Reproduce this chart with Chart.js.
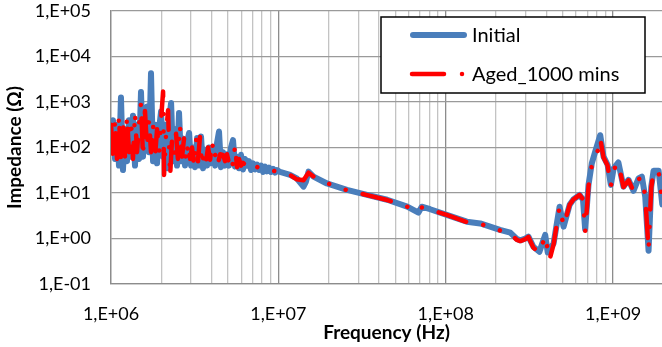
<!DOCTYPE html>
<html><head><meta charset="utf-8">
<script src="https://cdn.jsdelivr.net/npm/chart.js@4/dist/chart.umd.min.js"></script>
<style>html,body{margin:0;padding:0;background:#fff;}#wrap{width:662px;height:347px;position:relative;}</style>
</head><body><div id="wrap"><canvas id="c" width="662" height="347"></canvas></div>
<script>
const seriesNames = ['Initial', 'Aged_1000 mins'];

const initialFreq = [
1.000e6,1.028e6,1.057e6,1.086e6,1.116e6,1.147e6,1.179e6,1.212e6,1.246e6,1.281e6,
1.317e6,1.353e6,1.391e6,1.430e6,1.470e6,1.511e6,1.553e6,1.596e6,1.641e6,1.687e6,
1.734e6,1.783e6,1.833e6,1.884e6,1.937e6,1.991e6,2.047e6,2.104e6,2.163e6,2.223e6,
2.286e6,2.350e6,2.415e6,2.48e6,2.55e6,2.62e6,2.69e6,2.77e6,2.84e6,2.93e6,
3.01e6,3.09e6,3.18e6,3.27e6,3.36e6,3.45e6,3.55e6,3.65e6,3.75e6,3.85e6,
3.96e6,4.07e6,4.19e6,4.30e6,4.42e6,4.54e6,4.67e6,4.80e6,4.93e6,5.07e6,
5.21e6,5.36e6,5.51e6,5.66e6,5.82e6,5.98e6,6.15e6,6.32e6,6.50e6,6.68e6,
6.87e6,7.06e6,7.26e6,7.46e6,7.67e6,7.88e6,8.10e6,8.33e6,8.56e6,8.80e6,
9.04e6,9.30e6,9.56e6,9.82e6,
1.023e7,1.175e7,1.288e7,1.413e7,1.462e7,1.514e7,1.622e7,1.95e7,2.57e7,3.39e7,
4.47e7,5.89e7,6.87e7,7.19e7,8.07e7,1.014e8,1.337e8,1.607e8,2.11e8,2.43e8,
2.66e8,2.79e8,2.99e8,3.12e8,3.34e8,3.63e8,3.93e8,4.07e8,4.41e8,4.79e8,
5.06e8,5.50e8,5.79e8,6.31e8,6.61e8,6.81e8,7.13e8,7.46e8,7.82e8,8.38e8,
8.77e8,9.27e8,9.70e8,1.007e9,1.076e9,1.153e9,1.236e9,1.324e9,1.419e9,1.486e9,
1.556e9,1.629e9,1.690e9,1.746e9,1.871e9,1.968e9,2.0e9
];
const initialZ = [
100,398,56,316,40,1259,32,251,50,398,
63,501,40,316,56,1660,63,398,794,79,
4266,50,316,45,251,617,63,316,35,398,
955,50,251,40,575,50,158,40,126,209,
40,100,37,162,40,174,35,89,40,100,
45,89,40,126,224,37,79,40,71,40,
100,145,38,63,35,69,33,56,40,50,
32,45,33,42,32,40,29,38,30,36,
29,34,28,32,
29,25,21,13.8,17.8,29.5,23,16.2,11.7,9.1,
7.1,5.0,3.7,5.0,4.4,3.3,2.34,2.14,1.55,1.35,
0.98,0.91,1.0,1.10,0.66,0.51,1.20,0.49,0.78,5.0,
1.82,5.5,7.2,9.1,7.1,1.6,15.1,44.7,81,186,
63,41.7,15.1,34.7,46.8,13.8,19.5,11.2,20.9,22.9,
8.3,0.54,13.8,30.9,30.9,5.6,3.0
];

const agedFreq = [
1.000e6,1.028e6,1.057e6,1.086e6,1.116e6,1.147e6,1.179e6,1.212e6,1.246e6,1.281e6,
1.317e6,1.353e6,1.391e6,1.430e6,1.470e6,1.511e6,1.553e6,1.596e6,1.641e6,1.687e6,
1.734e6,1.783e6,1.833e6,1.884e6,1.937e6,1.991e6,2.047e6,2.075e6,2.133e6,2.193e6,
2.254e6,2.317e6,2.382e6,2.448e6,2.51e6,2.58e6,2.66e6,2.73e6,2.81e6,2.89e6,
2.97e6,3.05e6,3.13e6,3.22e6,3.31e6,3.40e6,3.50e6,3.60e6,3.70e6,3.80e6,
3.91e6,4.02e6,4.13e6,4.24e6,4.36e6,4.49e6,4.67e6,4.80e6,4.93e6,5.07e6,
5.21e6,5.36e6,5.51e6,5.66e6,5.82e6,5.98e6,6.15e6,6.41e6,6.68e6,6.97e6,
7.36e6,7.78e6,8.22e6,8.56e6,9.04e6,9.56e6,
1.023e7,1.175e7,1.288e7,1.413e7,1.514e7,1.622e7,1.95e7,2.57e7,3.39e7,4.47e7,
5.89e7,6.87e7,7.19e7,8.07e7,1.014e8,1.337e8,1.607e8,2.11e8,2.43e8,2.66e8,
2.79e8,2.99e8,3.12e8,3.34e8,3.63e8,3.93e8,4.17e8,4.41e8,4.79e8,5.06e8,
5.50e8,5.79e8,6.31e8,6.61e8,6.81e8,7.13e8,7.46e8,7.82e8,8.19e8,8.38e8,
8.77e8,9.27e8,9.70e8,1.007e9,1.076e9,1.153e9,1.236e9,1.324e9,1.419e9,1.486e9,
1.556e9,1.629e9,1.690e9,1.746e9,1.871e9,1.968e9,2.0e9
];
const agedZ = [
316,63,398,56,501,50,398,63,479,79,
398,56,575,79,316,955,63,631,100,398,
79,316,63,251,79,398,1698,25,200,661,
23,158,50,200,56,309,63,158,50,126,
56,100,40,162,50,170,40,79,50,100,
54,135,56,79,45,71,69,50,71,45,
63,40,112,37,56,40,46,40,35,42,
38,35,35,33,32,30,
29,25,20,19,28,23,16.5,11.5,9.0,7.0,
5.0,3.9,4.8,4.3,3.3,2.3,2.1,1.5,1.3,0.93,
0.88,0.97,1.08,0.63,0.48,1.15,0.34,0.74,5.0,1.9,
5.5,7.2,9.1,7.3,1.4,14,40,70,90,158,
60,40,14,33,45,13.5,19,11,20,22,
8.5,0.56,13,30,30,5.6,3.0
];

const xMajorTicks = [1e6, 1e7, 1e8, 1e9];
const xTickLabels = ['1,E+06', '1,E+07', '1,E+08', '1,E+09'];
const yTicks = [0.1, 1, 10, 100, 1e3, 1e4, 1e5];
const yTickLabels = ['1,E-01', '1,E+00', '1,E+01', '1,E+02', '1,E+03', '1,E+04', '1,E+05'];

const X_MIN = 1e6, X_MAX = 1.96e9, Y_MIN = 0.1, Y_MAX = 1e5;
const BLUE = '#4A7EBB', RED = '#FF0000';
const MAJOR = '#8C8C8C', MINOR = '#C3C3C3', HGRID = '#9A9A9A';
const FONT = 'Lato';

const xGridTicks = [];
xMajorTicks.forEach(d => { for (let m = 1; m <= 9; m++) { const v = d * m; if (v <= X_MAX) xGridTicks.push(v); } });

const legendPlugin = {
  id: 'boxLegend',
  afterDraw(chart) {
    const c = chart.ctx; c.save();
    const L = 381, T = 17, R = 645, B = 93;
    c.fillStyle = '#fff'; c.fillRect(L, T, R - L, B - T);
    c.strokeStyle = '#000'; c.lineWidth = 1.5; c.strokeRect(L, T, R - L, B - T);
    const ds = chart.data.datasets;
    const rows = [35, 74];
    c.lineCap = 'round';
    c.beginPath(); c.strokeStyle = ds[0].borderColor; c.lineWidth = ds[0].borderWidth;
    c.moveTo(413, rows[0]); c.lineTo(464, rows[0]); c.stroke();
    c.beginPath(); c.strokeStyle = ds[1].borderColor; c.lineWidth = ds[1].borderWidth;
    c.moveTo(412, rows[1]); c.lineTo(444, rows[1]); c.stroke();
    c.beginPath(); c.fillStyle = ds[1].borderColor; c.arc(462, rows[1], ds[1].borderWidth / 2, 0, Math.PI * 2); c.fill();
    c.fillStyle = '#000'; c.font = '20px ' + FONT; c.textBaseline = 'middle'; c.textAlign = 'left';
    ds.forEach((d, i) => c.fillText(d.label, 472, rows[i] + 1));
    c.restore();
  }
};

function draw() {
  new Chart(document.getElementById('c'), {
    type: 'line',
    data: {
      datasets: [
        { label: seriesNames[0], data: initialFreq.map((f, i) => ({ x: f, y: initialZ[i] })),
          borderColor: BLUE, backgroundColor: BLUE, borderWidth: 6, pointRadius: 0, tension: 0,
          borderCapStyle: 'round', borderJoinStyle: 'round', fill: false, order: 2 },
        { label: seriesNames[1], data: agedFreq.map((f, i) => ({ x: f, y: agedZ[i] })),
          borderColor: RED, backgroundColor: RED, borderWidth: 4.5, pointRadius: 0, tension: 0,
          borderDash: [29, 17.5, 0.001, 17.5, 0.001, 17.5],
          borderCapStyle: 'round', borderJoinStyle: 'round', fill: false, order: 1 }
      ]
    },
    options: {
      responsive: false, animation: false, devicePixelRatio: 1,
      layout: { padding: { top: 11, right: 0, bottom: 0, left: 0 } },
      plugins: { legend: { display: false }, tooltip: { enabled: false } },
      scales: {
        x: {
          type: 'logarithmic', min: X_MIN, max: X_MAX, position: 'bottom',
          afterBuildTicks: s => { s.ticks = xGridTicks.map(v => ({ value: v, major: xMajorTicks.includes(v) })); },
          afterFit: s => { s.height = 63; s.paddingLeft = 0; s.paddingRight = 0; },
          ticks: { autoSkip: false, maxRotation: 0, minRotation: 0, padding: 19, color: '#000',
            font: { family: FONT, size: 18 },
            callback: v => { const i = xMajorTicks.indexOf(v); return i >= 0 ? xTickLabels[i] : ''; } },
          grid: { drawTicks: false, color: c => (c.tick && c.tick.major) ? MAJOR : MINOR, lineWidth: 1.3 },
          border: { color: MAJOR, width: 1.3 },
          title: { display: true, text: 'Frequency (Hz)', color: '#000',
            font: { family: FONT, size: 19, weight: 'bold' }, padding: { top: 0, bottom: 3 } }
        },
        y: {
          type: 'logarithmic', min: Y_MIN, max: Y_MAX,
          afterBuildTicks: s => { s.ticks = yTicks.map(v => ({ value: v, major: true })); },
          afterFit: s => { s.width = 111; s.paddingTop = 0; s.paddingBottom = 0; },
          ticks: { padding: 20, color: '#000', font: { family: FONT, size: 18 },
            callback: v => { const i = yTicks.indexOf(v); return i >= 0 ? yTickLabels[i] : ''; } },
          grid: { drawTicks: false, color: HGRID, lineWidth: 1.3 },
          border: { color: MAJOR, width: 1.3 },
          title: { display: true, text: 'Impedance (Ω)', color: '#000',
            font: { family: FONT, size: 19, weight: 'bold' }, padding: { top: 3, bottom: 0 } }
        }
      }
    },
    plugins: [legendPlugin]
  });
}
Promise.all([document.fonts.load('18px Lato'), document.fonts.load('bold 19px Lato')]).then(draw, draw);
</script></body></html>
